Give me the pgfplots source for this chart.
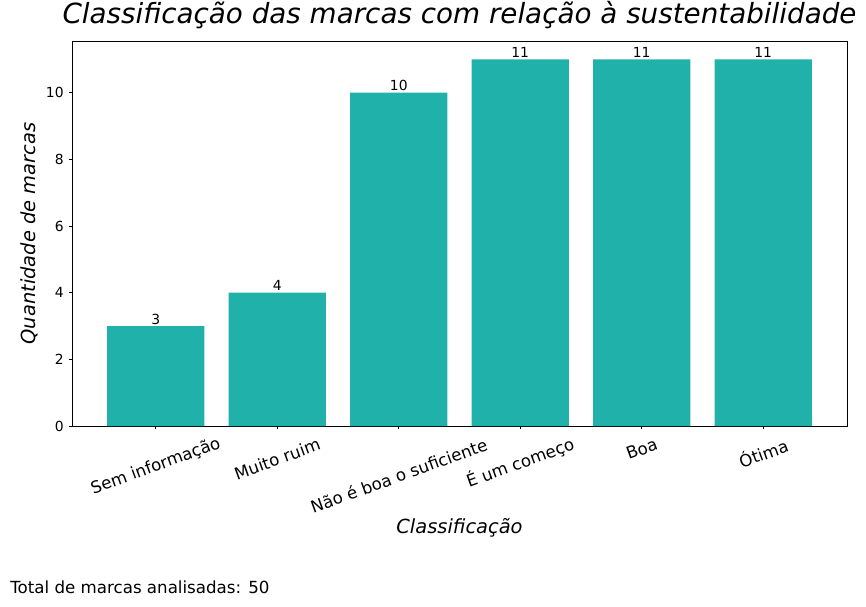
\documentclass[border=0pt]{standalone}
\usepackage{fontspec}
\setmainfont{DejaVu Sans}[ItalicFont={DejaVu Sans Oblique}]
\usepackage{pgfplots}
\pgfplotsset{compat=1.18}
\definecolor{barcol}{HTML}{20B2AA}
% vertical offset of each rotated category label (pt)
\def\lblshift#1{\ifcase#1 26.6\or 21.2\or 33.1\or 23.8\or 14\or 16.6\fi}

\begin{document}
\begin{tikzpicture}
\path[use as bounding box] (-51.84pt,-129.6pt) rectangle (571.68pt,306.72pt);
\begin{axis}[
    at={(0,0)}, anchor=south west,
    scale only axis, width=558pt, height=277.2pt,
    xmin=-0.69, xmax=5.69, ymin=0, ymax=11.55,
    xtick={0,...,5},
    xticklabels={Sem informação, Muito ruim, Não é boa o suficiente, É um começo, Boa, Ótima},
    ytick={0,2,...,10},
    tick align=outside, major tick length=2.5pt,
    xtick pos=bottom, ytick pos=left,
    tick style={black, line width=0.6pt},
    axis line style={line width=0.6pt},
    xticklabel style={font=\fontsize{12}{14}\selectfont, anchor=center, yshift=-\lblshift{\ticknum}pt, rotate=20},
    yticklabel style={font=\fontsize{10}{12}\selectfont},
    /pgf/number format/assume math mode=true,
    title={Classificação das marcas com relação à sustentabilidade},
    title style={at={(axis description cs:0.5,1.0469)}, anchor=center, font=\fontsize{20}{24}\selectfont\itshape},
    xlabel={Classificação},
    xlabel style={at={(axis description cs:0.5,-0.2648)}, anchor=center, font=\fontsize{14}{17}\selectfont\itshape},
    ylabel={Quantidade de marcas},
    ylabel style={at={(axis description cs:-0.0556,0.5)}, anchor=center, font=\fontsize{14}{17}\selectfont\itshape},
    clip=false,
    nodes near coords,
    nodes near coords style={font=\fontsize{10}{12}\selectfont, anchor=south, inner sep=1pt},
]
\addplot[ybar, bar width=0.8, fill=barcol, draw=none]
    coordinates {(0,3)(1,4)(2,10)(3,11)(4,11)(5,11)};
\end{axis}
\node[anchor=west, inner sep=0, font=\fontsize{12}{14}\selectfont] at (-44.6pt,-115.9pt) {Total de marcas analisadas: 50};
\end{tikzpicture}
\end{document}
